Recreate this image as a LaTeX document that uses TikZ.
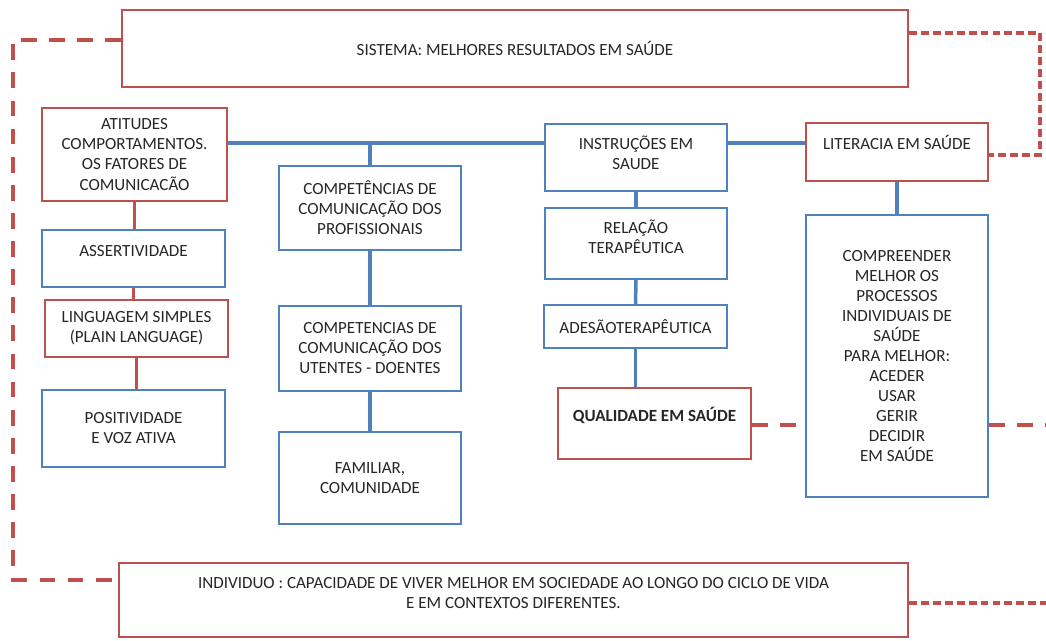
\documentclass[tikz,border=0pt]{standalone}
\usepackage{fontspec}
\setmainfont{Carlito}
\usepackage{xcolor}
\definecolor{boxred}{HTML}{C0504D}
\definecolor{boxblue}{HTML}{4F81BD}

\begin{document}
\begin{tikzpicture}[x=0.02cm, y=-0.02cm,
    every node/.style={font=\fontsize{9.7}{11.4}\selectfont, text=black!85, align=center},
    redbox/.style={draw=boxred, line width=1.1pt, fill=white},
    bluebox/.style={draw=boxblue, line width=1.4pt, fill=white},
    bluelink/.style={draw=boxblue, line width=2pt},
    redlink/.style={draw=boxred, line width=1.3pt},
    reddash/.style={draw=boxred, line width=2pt, dash pattern=on 9pt off 7pt},
    reddashfine/.style={draw=boxred, line width=2pt, dash pattern=on 4.5pt off 2.3pt},
    lift/.style={text depth=#1}]

    \useasboundingbox (0, 0) rectangle (1046, 641);

    % Helper points for the lines
    \coordinate (bus) at (0, 143);          % blue line
    \coordinate (lefttop) at (13, 40);      % left loop
    \coordinate (leftbot) at (13, 580);
    \coordinate (righttop) at (1040, 33);   % right loop
    \coordinate (rightmid) at (1040, 155);
    \coordinate (edgemid) at (1046, 425);   % open ends
    \coordinate (edgebot) at (1046, 603);

    % System and individual
    \node[redbox, minimum width=15.72cm, minimum height=1.54cm] (sistema) at (515, 48.5) {SISTEMA: MELHORES RESULTADOS EM SAÚDE};
    \node[redbox, minimum width=15.78cm, minimum height=1.48cm, lift=0.3cm] (individuo) at (513.5, 600) {INDIVIDUO : CAPACIDADE DE VIVER MELHOR EM SOCIEDADE AO LONGO DO CICLO DE VIDA\\E EM CONTEXTOS DIFERENTES.};

    % Left column
    \node[redbox, minimum width=3.7cm, minimum height=1.86cm] (atitudes) at (134.5, 154.5) {ATITUDES\\COMPORTAMENTOS.\\OS FATORES DE\\COMUNICACÃO};
    \node[bluebox, minimum width=3.66cm, minimum height=1.14cm, lift=0.3cm] (assert) at (133.5, 258.5) {ASSERTIVIDADE};
    \node[redbox, minimum width=3.66cm, minimum height=1.14cm] (lingua) at (136.5, 328.5) {LINGUAGEM SIMPLES\\(PLAIN LANGUAGE)};
    \node[bluebox, minimum width=3.66cm, minimum height=1.54cm] (posit) at (133.5, 428.5) {POSITIVIDADE\\E VOZ ATIVA};

    % Second column
    \node[bluebox, minimum width=3.64cm, minimum height=1.68cm] (comp1) at (370, 208) {COMPETÊNCIAS DE\\COMUNICAÇÃO DOS\\PROFISSIONAIS};
    \node[bluebox, minimum width=3.64cm, minimum height=1.7cm] (comp2) at (370, 348.5) {COMPETENCIAS DE\\COMUNICAÇÃO DOS\\UTENTES - DOENTES};
    \node[bluebox, minimum width=3.64cm, minimum height=1.84cm] (familiar) at (370, 478) {FAMILIAR,\\COMUNIDADE};

    % Third column
    \node[bluebox, minimum width=3.64cm, minimum height=1.34cm, lift=0.2cm] (instr) at (636, 157.5) {INSTRUÇÕES EM\\SAUDE};
    \node[bluebox, minimum width=3.64cm, minimum height=1.42cm, lift=0.27cm] (relacao) at (636, 243.5) {RELAÇÃO\\TERAPÊUTICA};
    \node[bluebox, minimum width=3.66cm, minimum height=0.86cm] (adesao) at (635.5, 326.5) {ADESÃOTERAPÊUTICA};
    \node[redbox, minimum width=3.86cm, minimum height=1.42cm, lift=0.35cm, font=\fontsize{9.7}{11.4}\selectfont\bfseries] (qualid) at (654.5, 423.5) {QUALIDADE EM SAÚDE};

    % Right column
    \node[redbox, minimum width=3.64cm, minimum height=1.16cm, lift=0.4cm] (literacia) at (897, 152) {LITERACIA EM SAÚDE};
    \node[bluebox, minimum width=3.64cm, minimum height=5.64cm] (compreender) at (897, 356) {COMPREENDER\\MELHOR OS\\PROCESSOS\\INDIVIDUAIS DE\\SAÚDE\\PARA MELHOR:\\ACEDER\\USAR\\GERIR\\DECIDIR\\EM SAÚDE};

    % Blue links
    \draw[bluelink] (atitudes.east |- bus) -- (instr.west |- bus);
    \draw[bluelink] (instr.east |- bus) -- (literacia.west |- bus);
    \draw[bluelink] (comp1.north |- bus) -- (comp1.north);
    \draw[bluelink] (comp1.south) -- (comp2.north);
    \draw[bluelink] (comp2.south) -- (familiar.north);
    \draw[bluelink] (instr.south) -- (relacao.north);
    \draw[bluelink] (relacao.south) -- (adesao.north);
    \draw[bluelink] (adesao.south) -- (adesao.south |- qualid.north);
    \draw[bluelink] (literacia.south) -- (compreender.north);

    % Red links on the left
    \draw[redlink] (atitudes.south) -- (atitudes.south |- assert.north);
    \draw[redlink] (assert.south) -- (assert.south |- lingua.north);
    \draw[redlink] (lingua.south) -- (lingua.south |- posit.north);

    % Dashed loops
    \draw[reddash] (sistema.west |- lefttop) -- (lefttop) -- (leftbot) -- (individuo.west |- leftbot);
    \draw[reddashfine] (sistema.east |- righttop) -- (righttop) -- (rightmid) -- (literacia.east |- rightmid);
    \draw[reddash] (qualid.east |- edgemid) -- (compreender.west |- edgemid);
    \draw[reddash] (compreender.east |- edgemid) -- (edgemid);
    \draw[reddashfine] (individuo.east |- edgebot) -- (edgebot);

\end{tikzpicture}
\end{document}
